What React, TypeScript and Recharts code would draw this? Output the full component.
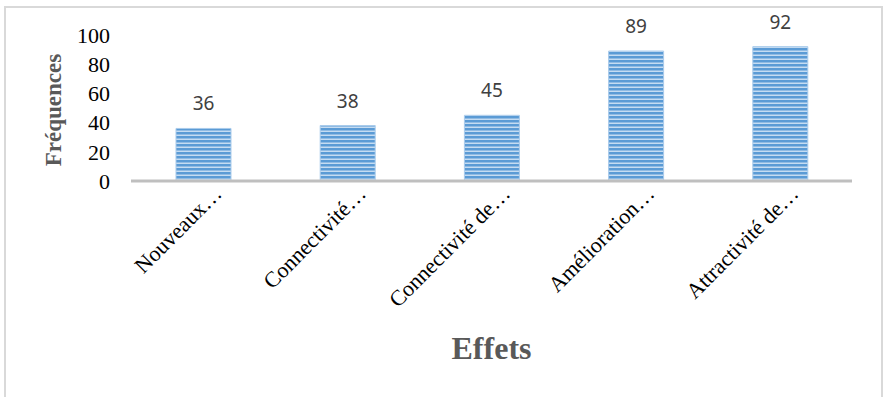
import React from 'react';
import { BarChart, Bar, XAxis, YAxis, LabelList } from 'recharts';

const effets = ['Nouveaux…', 'Connectivité…', 'Connectivité de…', 'Amélioration…', 'Attractivité de…'];
const frequences = [36, 38, 45, 89, 92];
const yTicks = [0, 20, 40, 60, 80, 100];

const data = effets.map((name, i) => ({ name, value: frequences[i] }));

const SERIF = '"Liberation Serif", "Times New Roman", serif';

const EffetTick = (props: any) => {
    const { x, y, payload } = props;
    return (
        <g transform={`translate(${x + 20},${y + 14})`}>
            <text textAnchor="end" transform="rotate(-45)" fontFamily={SERIF} fontSize={22} fill="#000">
                {payload.value}
            </text>
        </g>
    );
};

const App: React.FC = () => {
    return (
        <div style={{ position: 'fixed', left: 0, top: 0, width: 883, height: 397, background: '#fff', overflow: 'hidden' }}>
            <div style={{ position: 'absolute', left: 4, top: 6, width: 875, height: 400, border: '2px solid #d9d9d9' }} />
            <div style={{ position: 'absolute', left: 0, top: 0 }}>
                <BarChart width={883} height={397} data={data} margin={{ top: 35, right: 31, bottom: 26, left: 0 }}>
                    <defs>
                        <pattern id="stripes" patternUnits="userSpaceOnUse" width={4} height={4}>
                            <rect x={0} y={0} width={4} height={4} fill="#c5dcf2" />
                            <rect x={0} y={0} width={4} height={2.5} fill="#5b9bd5" />
                        </pattern>
                    </defs>
                    <XAxis
                        dataKey="name"
                        height={190}
                        interval={0}
                        tickLine={false}
                        tickSize={0}
                        tickMargin={0}
                        axisLine={{ stroke: '#bfbfbf', strokeWidth: 3 }}
                        tick={<EffetTick />}
                        label={{
                            content: ({ viewBox }: any) => (
                                <text
                                    x={viewBox.x + viewBox.width / 2}
                                    y={viewBox.y + 178}
                                    textAnchor="middle"
                                    fontFamily={SERIF}
                                    fontWeight="bold"
                                    fontSize={32}
                                    fill="#595959"
                                >
                                    Effets
                                </text>
                            ),
                        }}
                    />
                    <YAxis
                        width={131}
                        domain={[0, 100]}
                        ticks={yTicks}
                        interval={0}
                        axisLine={false}
                        tickLine={false}
                        tickMargin={15}
                        tick={{ fontFamily: SERIF, fontSize: 22, fill: '#000' }}
                        label={{
                            content: ({ viewBox }: any) => {
                                const cx = viewBox.x + 61;
                                const cy = viewBox.y + viewBox.height / 2 + 2;
                                return (
                                    <text
                                        x={cx}
                                        y={cy}
                                        transform={`rotate(-90, ${cx}, ${cy})`}
                                        textAnchor="middle"
                                        fontFamily={SERIF}
                                        fontWeight="bold"
                                        fontSize={23}
                                        fill="#595959"
                                    >
                                        Fréquences
                                    </text>
                                );
                            },
                        }}
                    />
                    <Bar dataKey="value" barSize={55} fill="url(#stripes)" stroke="#a9cbeb" strokeWidth={1} isAnimationActive={false}>
                        <LabelList
                            dataKey="value"
                            position="top"
                            offset={18}
                            style={{ fontFamily: '"Noto Sans", "Open Sans", sans-serif', fontSize: 19, fill: '#404040' }}
                        />
                    </Bar>
                </BarChart>
            </div>
        </div>
    );
};

export default App;
